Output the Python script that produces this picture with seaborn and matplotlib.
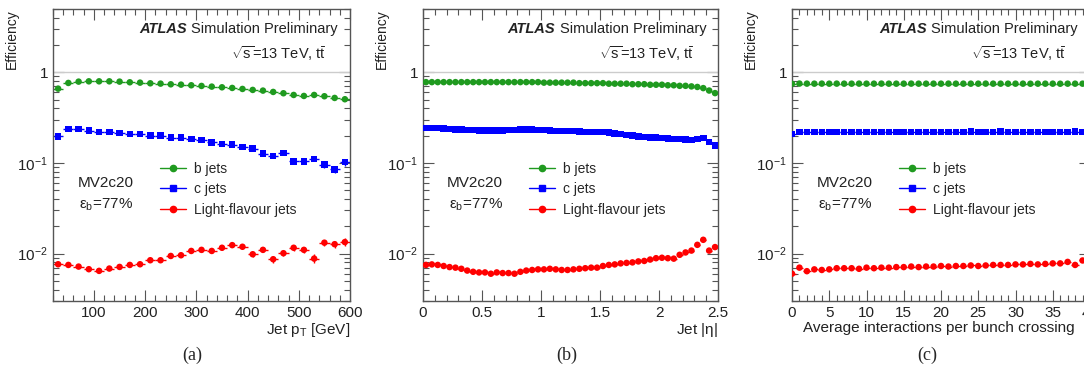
import numpy as np
import pandas as pd
import matplotlib
matplotlib.use("Agg")
import matplotlib.pyplot as plt
import seaborn as sns
from matplotlib.lines import Line2D
from matplotlib.ticker import FixedLocator, FixedFormatter, MultipleLocator, LogLocator, NullFormatter, FuncFormatter

# ---- data ----
flavours = ["b jets", "c jets", "Light-flavour jets"]

# (a) vs jet pT, 20 GeV bins from 20 to 600
pt_centres = [30, 50, 70, 90, 110, 130, 150, 170, 190, 210, 230, 250, 270, 290, 310,
              330, 350, 370, 390, 410, 430, 450, 470, 490, 510, 530, 550, 570, 590]
pt_b = [0.661, 0.764, 0.790, 0.796, 0.796, 0.796, 0.790, 0.777, 0.770, 0.757, 0.751,
        0.738, 0.732, 0.720, 0.708, 0.696, 0.684, 0.673, 0.656, 0.640, 0.629, 0.608,
        0.588, 0.563, 0.549, 0.563, 0.545, 0.522, 0.505]
pt_c = [0.196, 0.236, 0.236, 0.227, 0.221, 0.219, 0.214, 0.208, 0.208, 0.201, 0.200,
        0.191, 0.191, 0.184, 0.180, 0.169, 0.162, 0.159, 0.150, 0.144, 0.127, 0.120,
        0.129, 0.104, 0.104, 0.111, 0.096, 0.085, 0.102]
pt_l = [0.00763, 0.00750, 0.00719, 0.00673, 0.00645, 0.00684, 0.00713, 0.00750, 0.00763,
        0.00845, 0.00845, 0.00942, 0.00959, 0.0107, 0.0110, 0.0107, 0.0116, 0.0124,
        0.0119, 0.00984, 0.0110, 0.00867, 0.0101, 0.0116, 0.0110, 0.00881, 0.0132,
        0.0127, 0.0134]
pt_b_err = [0.008] * 29
pt_c_err = [0.004, 0.004, 0.004, 0.004, 0.004, 0.004, 0.004, 0.004, 0.004, 0.004, 0.004,
            0.004, 0.004, 0.004, 0.004, 0.004, 0.004, 0.005, 0.005, 0.005, 0.005, 0.005,
            0.006, 0.006, 0.006, 0.007, 0.007, 0.008, 0.009]
pt_l_err = [0.0003, 0.0003, 0.0003, 0.0003, 0.0003, 0.0003, 0.0003, 0.0003, 0.0003,
            0.0003, 0.0004, 0.0004, 0.0004, 0.0004, 0.0005, 0.0005, 0.0005, 0.0006,
            0.0006, 0.0006, 0.0007, 0.0007, 0.0008, 0.0009, 0.0009, 0.0010, 0.0011,
            0.0012, 0.0013]

# (b) vs jet |eta|, 0.05 bins from 0 to 2.5
eta_centres = [0.025 + 0.05 * i for i in range(50)]
eta_b = [0.78, 0.78, 0.78, 0.78, 0.78, 0.78, 0.78, 0.78, 0.78, 0.78,
         0.78, 0.78, 0.78, 0.78, 0.78, 0.78, 0.78, 0.78, 0.78, 0.78,
         0.77, 0.77, 0.77, 0.77, 0.77, 0.77, 0.76, 0.76, 0.76, 0.76,
         0.76, 0.75, 0.75, 0.75, 0.75, 0.74, 0.74, 0.74, 0.73, 0.73,
         0.73, 0.72, 0.72, 0.71, 0.71, 0.70, 0.69, 0.67, 0.63, 0.59]
eta_c = [0.243, 0.242, 0.243, 0.240, 0.237, 0.235, 0.233, 0.232, 0.230, 0.229,
         0.228, 0.229, 0.227, 0.228, 0.230, 0.232, 0.233, 0.234, 0.233, 0.232,
         0.231, 0.228, 0.226, 0.225, 0.225, 0.224, 0.222, 0.221, 0.220, 0.219,
         0.220, 0.218, 0.212, 0.208, 0.204, 0.200, 0.197, 0.194, 0.192, 0.190,
         0.188, 0.186, 0.184, 0.183, 0.181, 0.180, 0.185, 0.188, 0.170, 0.155]
eta_l = [0.0075, 0.0076, 0.0075, 0.0073, 0.0071, 0.0070, 0.0068, 0.0065, 0.0063, 0.0062,
         0.0062, 0.0060, 0.0062, 0.0061, 0.0061, 0.0060, 0.0063, 0.0065, 0.0066, 0.0067,
         0.0067, 0.0068, 0.0067, 0.0066, 0.0066, 0.0067, 0.0068, 0.0069, 0.0070, 0.0070,
         0.0073, 0.0075, 0.0076, 0.0078, 0.0079, 0.0080, 0.0082, 0.0083, 0.0086, 0.0089,
         0.0090, 0.0089, 0.0088, 0.0097, 0.0103, 0.0108, 0.0125, 0.0142, 0.0108, 0.0118]

# (c) vs average interactions per bunch crossing
mu_centres = list(range(40))
mu_b = [0.748, 0.752, 0.751, 0.750, 0.751, 0.750, 0.751, 0.750, 0.750, 0.751,
        0.750, 0.750, 0.751, 0.750, 0.750, 0.750, 0.751, 0.750, 0.750, 0.750,
        0.750, 0.751, 0.750, 0.750, 0.750, 0.750, 0.751, 0.750, 0.750, 0.750,
        0.750, 0.750, 0.749, 0.750, 0.750, 0.750, 0.749, 0.750, 0.750, 0.750]
mu_c = [0.209, 0.219, 0.221, 0.221, 0.220, 0.220, 0.221, 0.221, 0.221, 0.221,
        0.221, 0.221, 0.221, 0.221, 0.221, 0.221, 0.221, 0.221, 0.221, 0.221,
        0.221, 0.221, 0.221, 0.221, 0.222, 0.221, 0.221, 0.221, 0.222, 0.221,
        0.221, 0.221, 0.221, 0.221, 0.221, 0.221, 0.221, 0.221, 0.222, 0.221]
mu_l = [0.0060, 0.0070, 0.0064, 0.0067, 0.0066, 0.0067, 0.0069, 0.0069, 0.0069, 0.0068,
        0.0070, 0.0069, 0.0070, 0.0070, 0.0071, 0.0071, 0.0072, 0.0071, 0.0072, 0.0072,
        0.0073, 0.0072, 0.0073, 0.0073, 0.0074, 0.0073, 0.0074, 0.0075, 0.0075, 0.0075,
        0.0076, 0.0076, 0.0077, 0.0076, 0.0077, 0.0078, 0.0078, 0.0081, 0.0075, 0.0084]

colors = {"b jets": "#1f9a1f", "c jets": "#0000ff", "Light-flavour jets": "#ff0000"}
markers = {"b jets": "o", "c jets": "s", "Light-flavour jets": "o"}
TXT = "#222222"

sns.set_theme(style="ticks")
plt.rcParams["font.family"] = ["Liberation Sans", "DejaVu Sans"]
plt.rcParams["mathtext.fontset"] = "custom"
plt.rcParams["mathtext.rm"] = "Liberation Sans"
plt.rcParams["mathtext.it"] = "Liberation Sans:italic"
plt.rcParams["mathtext.bf"] = "Liberation Sans:bold"
plt.rcParams["axes.edgecolor"] = "#555555"
plt.rcParams["axes.linewidth"] = 1.0


def makeFrame(xs, b, c, l):
    rows = []
    for name, vals in zip(flavours, [b, c, l]):
        for x, v in zip(xs, vals):
            rows.append({"x": x, "eff": v, "flavour": name})
    return pd.DataFrame(rows)


def drawPanel(ax, xs, b, c, l, half_width, errs, xlim, xlabel, major, minor, tickfmt):
    df = makeFrame(xs, b, c, l)
    for name, vals, err in zip(flavours, [b, c, l], errs):
        ax.errorbar(xs, vals, xerr=half_width, yerr=err, fmt="none",
                    ecolor=colors[name], elinewidth=1.0, capsize=0, zorder=2)
    sns.scatterplot(data=df, x="x", y="eff", hue="flavour", style="flavour",
                    palette=colors, markers=markers, s=22, edgecolor="none",
                    legend=False, ax=ax, zorder=3)
    ax.set_yscale("log")
    ax.set_ylim(0.003, 5)
    ax.set_xlim(*xlim)
    ax.axhline(1, color="#cccccc", lw=1, zorder=1)

    ax.yaxis.set_major_locator(FixedLocator([0.01, 0.1, 1]))
    ax.yaxis.set_major_formatter(FixedFormatter([r"$10^{-2}$", r"$10^{-1}$", "1"]))
    ax.yaxis.set_minor_locator(LogLocator(base=10, subs=np.arange(2, 10)))
    ax.yaxis.set_minor_formatter(NullFormatter())
    ax.xaxis.set_major_locator(MultipleLocator(major))
    ax.xaxis.set_minor_locator(MultipleLocator(minor))
    if tickfmt is not None:
        ax.xaxis.set_major_formatter(tickfmt)

    ax.tick_params(which="both", direction="in", top=True, right=True,
                   colors="#555555", labelcolor=TXT, labelsize=11)
    ax.tick_params(which="major", length=8, width=0.8)
    ax.tick_params(which="minor", length=4, width=0.8)

    ax.set_ylabel("Efficiency", loc="top", fontsize=10, color=TXT)
    ax.yaxis.set_label_coords(-0.115, 1.0)
    ax.set_xlabel(xlabel, loc="right", fontsize=11, color=TXT, labelpad=1)

    t = ax.text(0.96, 0.93, "Simulation Preliminary", transform=ax.transAxes,
                ha="right", va="center", fontsize=10.5, color=TXT)
    ax.annotate("ATLAS", xy=(0, 0.5), xycoords=t, xytext=(-3, 0), textcoords="offset points",
                ha="right", va="center", fontsize=10.5, fontweight="bold",
                fontstyle="italic", color=TXT)
    ax.text(0.922, 0.848, r"$\sqrt{\mathrm{s}}$=13 TeV, $\mathrm{t\bar{t}}$",
            transform=ax.transAxes, ha="right", va="center", fontsize=10.5, color=TXT)
    ax.text(0.082, 0.405, "MV2c20", transform=ax.transAxes, ha="left", va="center",
            fontsize=11, color=TXT)
    ax.text(0.088, 0.33, r"$\mathrm{\varepsilon}_{\mathrm{b}}$=77%", transform=ax.transAxes,
            ha="left", va="center", fontsize=11, color=TXT)

    handles = [Line2D([], [], color=colors[n], marker=markers[n], markersize=4.5, lw=1)
               for n in flavours]
    ax.legend(handles, flavours, loc="upper left", bbox_to_anchor=(0.34, 0.495),
              frameon=False, fontsize=10, handlelength=1.9, handletextpad=0.55,
              labelspacing=0.45, borderaxespad=0)
    ax.set_facecolor("white")


fig = plt.figure(figsize=(10.84, 3.74), dpi=100)
fig.patch.set_facecolor("white")
ax_a = fig.add_axes([53 / 1084, 73 / 374, 297 / 1084, 292 / 374])
ax_b = fig.add_axes([423 / 1084, 73 / 374, 295 / 1084, 292 / 374])
ax_c = fig.add_axes([792 / 1084, 73 / 374, 298 / 1084, 292 / 374])

drawPanel(ax_a, pt_centres, pt_b, pt_c, pt_l, 10, [pt_b_err, pt_c_err, pt_l_err],
          (20, 600), r"Jet $\mathrm{p}_{\mathrm{T}}$ [GeV]", 100, 20, None)
drawPanel(ax_b, eta_centres, eta_b, eta_c, eta_l, 0.025, [None, None, None],
          (0, 2.5), r"Jet |$\mathrm{\eta}$|", 0.5, 0.1,
          FuncFormatter(lambda v, p: "%g" % v))
drawPanel(ax_c, mu_centres, mu_b, mu_c, mu_l, 0.5, [None, None, None],
          (0, 40), "Average interactions per bunch crossing", 5, 1, None)
# the third panel runs past the right edge of the page; keep its axis title visible
ax_c.xaxis.label.set_x(0.95)

for xpos, lab in [(0.177, "(a)"), (0.523, "(b)"), (0.855, "(c)")]:
    fig.text(xpos, 0.05, lab, ha="center", va="center", fontsize=13,
             family=["Liberation Serif", "DejaVu Serif"])

fig.savefig("out.png", dpi=100)
